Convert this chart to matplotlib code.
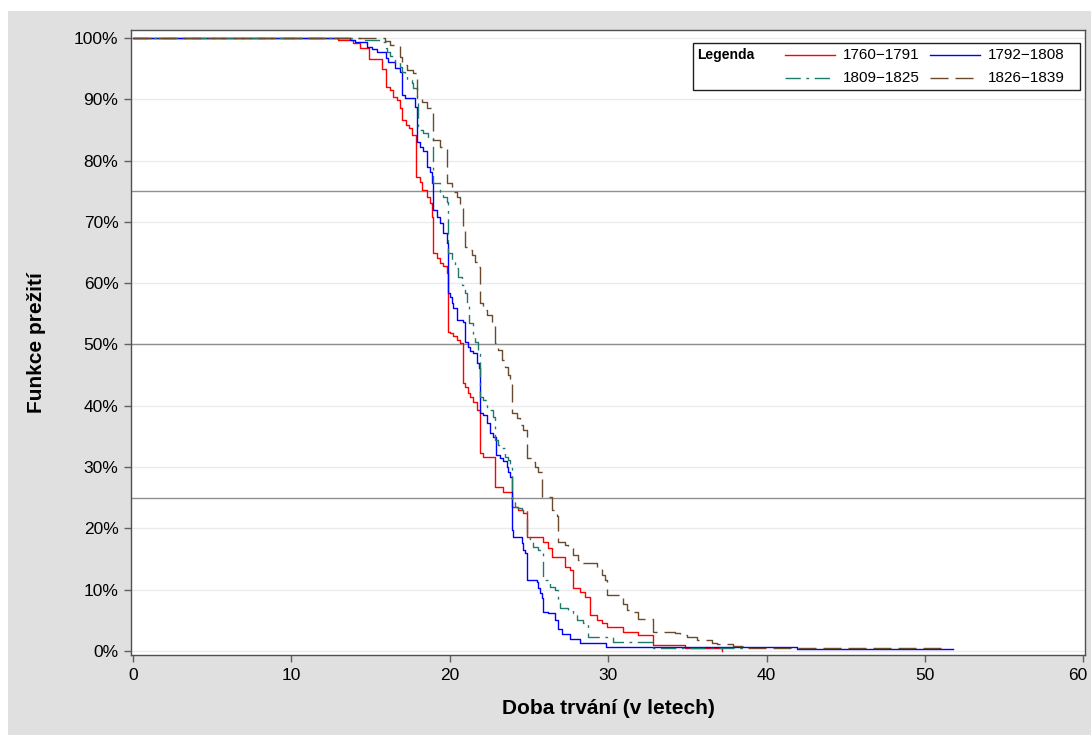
import matplotlib
matplotlib.use("Agg")
import matplotlib.pyplot as plt
import matplotlib.transforms as mtransforms
from matplotlib.lines import Line2D
from matplotlib.patches import Rectangle
from matplotlib.ticker import PercentFormatter

plt.rcParams['font.family'] = ['Liberation Sans', 'DejaVu Sans']

# ---------------- data (time in years, survival in %) ----------------
labels = ["1760\u22121791", "1792\u22121808", "1809\u22121825", "1826\u22121839"]

red_t = [0, 12.94, 13.89, 14.33, 14.90, 15.72, 15.97, 16.22, 16.41, 16.67, 16.86, 16.98,
         17.23, 17.42, 17.61, 17.87, 18.12, 18.24, 18.56, 18.75, 18.88, 18.94, 19.19,
         19.38, 19.57, 19.82, 19.89, 20.01, 20.20, 20.45, 20.64, 20.83, 20.96, 21.15,
         21.28, 21.46, 21.72, 21.91, 22.10, 22.85, 23.36, 23.93, 24.31, 24.62, 24.87,
         25.88, 26.20, 26.45, 27.27, 27.59, 27.78, 28.22, 28.54, 28.85, 29.29, 29.61,
         29.92, 30.93, 31.88, 32.83, 34.85, 37.18]
red_s = [100, 99.7, 99.2, 98.4, 96.6, 95.0, 92.0, 91.5, 90.4, 89.9, 88.6, 86.6,
         85.8, 85.3, 84.2, 77.3, 76.5, 75.2, 74.0, 73.0, 70.8, 64.9, 64.1,
         63.3, 62.8, 61.7, 52.0, 51.9, 51.4, 50.7, 50.2, 43.7, 43.1, 42.1,
         41.4, 40.6, 39.3, 32.3, 31.6, 26.8, 26.0, 23.5, 23.0, 22.5, 18.6,
         17.8, 16.8, 15.3, 13.7, 13.2, 10.3, 9.6, 8.8, 5.8, 5.0, 4.6,
         3.9, 3.1, 2.6, 1.0, 0.5, 0.0]
red_end = 37.18

blue_t = [0, 13.70, 14.02, 14.77, 15.09, 15.40, 15.97, 16.10, 16.54, 16.86, 16.98, 17.17,
          17.80, 17.93, 18.12, 18.31, 18.56, 18.75, 18.88, 18.94, 19.19, 19.38, 19.57,
          19.82, 19.89, 20.01, 20.14, 20.20, 20.45, 20.83, 20.96, 21.15, 21.28, 21.46,
          21.72, 21.84, 21.91, 22.10, 22.35, 22.54, 22.73, 22.92, 23.17, 23.36, 23.61,
          23.67, 23.80, 23.93, 23.99, 24.56, 24.62, 24.75, 24.87, 25.51, 25.57, 25.69,
          25.82, 25.88, 26.20, 26.64, 26.83, 27.08, 27.59, 28.22, 29.86, 41.92]
blue_s = [100, 99.7, 99.3, 98.5, 98.2, 97.7, 96.7, 96.1, 95.1, 94.5, 90.7, 90.2,
          88.7, 83.0, 82.2, 81.5, 79.0, 78.1, 76.3, 71.9, 70.8, 69.8, 68.2,
          66.6, 58.4, 57.7, 56.8, 56.0, 54.0, 53.7, 50.4, 49.6, 49.0, 48.6,
          47.0, 46.2, 38.8, 38.5, 37.2, 35.6, 34.9, 32.0, 31.5, 31.0, 30.0,
          29.2, 28.4, 19.7, 18.6, 17.6, 16.5, 16.0, 11.6, 11.3, 10.3, 9.5,
          8.6, 6.4, 6.2, 5.0, 3.6, 2.8, 2.0, 1.3, 0.65, 0.3]
blue_end = 51.77

teal_t = [0, 14.65, 15.59, 15.97, 16.04, 16.22, 16.54, 16.86, 16.98, 17.17, 17.30, 17.61,
          17.68, 17.93, 17.99, 18.31, 18.62, 18.94, 19.38, 19.57, 19.82, 19.89, 20.14,
          20.33, 20.52, 20.77, 20.96, 21.09, 21.20, 21.46, 21.59, 21.78, 21.91, 22.10,
          22.35, 22.54, 22.73, 22.85, 23.04, 23.17, 23.48, 23.67, 23.80, 23.93, 24.12,
          24.31, 24.56, 24.87, 25.06, 25.25, 25.57, 25.82, 25.88, 26.33, 26.64, 26.83,
          26.93, 27.46, 27.78, 28.03, 28.41, 28.72, 30.30, 32.83, 38.51]
teal_s = [100, 99.7, 99.3, 98.4, 97.7, 97.0, 96.0, 95.2, 94.5, 94.0, 93.1, 92.7,
          91.8, 90.2, 85.0, 84.5, 83.7, 76.3, 74.9, 74.1, 73.2, 65.0, 63.8,
          62.4, 61.0, 59.7, 58.4, 56.8, 53.5, 51.6, 50.4, 48.5, 41.4, 40.9,
          39.8, 39.3, 38.2, 34.4, 33.6, 33.1, 31.6, 31.2, 30.0, 24.8, 23.5,
          23.3, 23.0, 18.6, 17.8, 17.0, 16.5, 16.3, 11.6, 10.4, 10.0, 8.3,
          7.0, 6.7, 6.2, 5.0, 4.6, 2.3, 1.5, 0.5, 0.0]
teal_end = 38.51

brown_t = [0, 15.91, 16.22, 16.86, 16.98, 17.30, 17.68, 17.93, 18.24, 18.56, 18.94, 19.38,
           19.82, 20.14, 20.20, 20.45, 20.64, 20.83, 20.96, 21.15, 21.40, 21.59, 21.78,
           21.91, 22.10, 22.35, 22.66, 22.85, 23.04, 23.30, 23.48, 23.67, 23.80, 23.93,
           24.24, 24.43, 24.62, 24.87, 25.19, 25.38, 25.57, 25.82, 26.45, 26.64, 26.77,
           26.83, 27.27, 27.46, 27.78, 28.09, 28.41, 29.29, 29.61, 29.80, 29.92, 30.93,
           31.19, 31.57, 31.88, 32.83, 34.22, 34.53, 34.97, 35.61, 36.55, 36.87, 37.88,
           38.64]
brown_s = [100, 99.5, 98.9, 96.9, 95.6, 94.8, 94.3, 90.2, 89.6, 88.6, 83.4, 82.2,
           76.3, 75.5, 74.9, 74.1, 72.4, 68.7, 65.9, 65.4, 64.6, 63.5, 62.6,
           56.8, 55.6, 54.8, 53.5, 50.2, 49.1, 47.5, 46.3, 45.0, 44.2, 38.8,
           38.0, 36.9, 36.1, 31.5, 30.8, 30.0, 29.2, 25.1, 23.0, 22.5, 22.0,
           17.8, 17.3, 16.8, 15.7, 14.8, 14.4, 13.5, 12.4, 11.6, 9.1, 7.7,
           6.7, 6.3, 5.2, 3.1, 2.9, 2.6, 2.3, 1.8, 1.3, 1.1, 0.8,
           0.5]
brown_end = 51.0

x_ticks = [0, 10, 20, 30, 40, 50, 60]
y_ticks = [0, 10, 20, 30, 40, 50, 60, 70, 80, 90, 100]
ref_levels = [25, 50, 75]

# ---------------- figure ----------------
W, H = 1091, 735
fig = plt.figure(figsize=(W / 100, H / 100), dpi=100)
fig.patch.set_facecolor("white")

def fx(px):
    return px / W

def fy(py):
    return 1 - py / H

fig.patches.append(Rectangle((fx(8), 0), 1 - fx(8), fy(11), transform=fig.transFigure,
                             facecolor="#e0e0e0", edgecolor="none", zorder=-10))

ax = fig.add_axes([fx(131), fy(655), fx(1085) - fx(131), fy(30) - fy(655)])
ax.set_zorder(1)
ax.set_facecolor("white")

colors = ["#ff0000", "#0000ff", "#1f7a6c", "#6a4a2c"]
styles = [dict(linestyle="-"), dict(linestyle="-"),
          dict(linestyle=(0, (11, 4, 2, 4))), dict(linestyle=(0, (13, 5)))]
series = [(red_t, red_s, red_end), (blue_t, blue_s, blue_end),
          (teal_t, teal_s, teal_end), (brown_t, brown_s, brown_end)]

for (t, s, end), c, st in zip(series, colors, styles):
    tt = list(t)
    ss = list(s)
    if end > tt[-1]:
        tt.append(end)
        ss.append(ss[-1])
    ax.step(tt, ss, where="post", color=c, lw=1.0, zorder=3, **st)

for yv in y_ticks:
    ax.axhline(yv, color="#ebebeb", lw=1.0, zorder=1)
for yv in ref_levels:
    ax.axhline(yv, color="#8f8f8f", lw=1.0, zorder=2)

ax.set_xlim(-0.13, 60.1)
ax.set_ylim(-0.65, 101.3)
ax.set_xticks(x_ticks)
ax.set_yticks(y_ticks)
ax.yaxis.set_major_formatter(PercentFormatter(decimals=0))
ax.tick_params(axis="both", direction="out", length=5, width=1, color="#606060",
               labelsize=12.5, labelcolor="black", pad=4)
for sp in ax.spines.values():
    sp.set_color("#505050")
    sp.set_linewidth(1.0)

# keep the last x tick label inside the image, as in the reference
fig.canvas.draw()
last_lbl = ax.get_xticklabels()[-1]
last_lbl.set_transform(last_lbl.get_transform() +
                       mtransforms.ScaledTranslation(-6 / 100, 0, fig.dpi_scale_trans))

ax.set_xlabel("Doba trvání (v letech)", fontsize=15, fontweight="bold", labelpad=12)
ax.set_ylabel("Funkce prežití", fontsize=15, fontweight="bold", labelpad=20)

# ---------------- legend (manual box) ----------------
lx0, ly0, lx1, ly1 = 693, 43, 1080, 90
fig.patches.append(Rectangle((fx(lx0), fy(ly1)), fx(lx1) - fx(lx0), fy(ly0) - fy(ly1),
                             transform=fig.transFigure, facecolor="white",
                             edgecolor="#202020", lw=1.0, zorder=5))
fig.text(fx(697), fy(55), "Legenda", fontsize=10, fontweight="bold",
         va="center", ha="left", zorder=6)
entries = [(785, 835, 843, 55), (930, 980, 988, 55), (785, 835, 843, 78), (930, 980, 988, 78)]
for (x0, x1, xt, yy), lab, c, st in zip(entries, labels, colors, styles):
    fig.lines.append(Line2D([fx(x0), fx(x1)], [fy(yy), fy(yy)], transform=fig.transFigure,
                            color=c, lw=1.0, zorder=6, **st))
    fig.text(fx(xt), fy(yy), lab, fontsize=11, va="center", ha="left", zorder=6)

fig.savefig("out.png", dpi=100, facecolor=fig.get_facecolor())
